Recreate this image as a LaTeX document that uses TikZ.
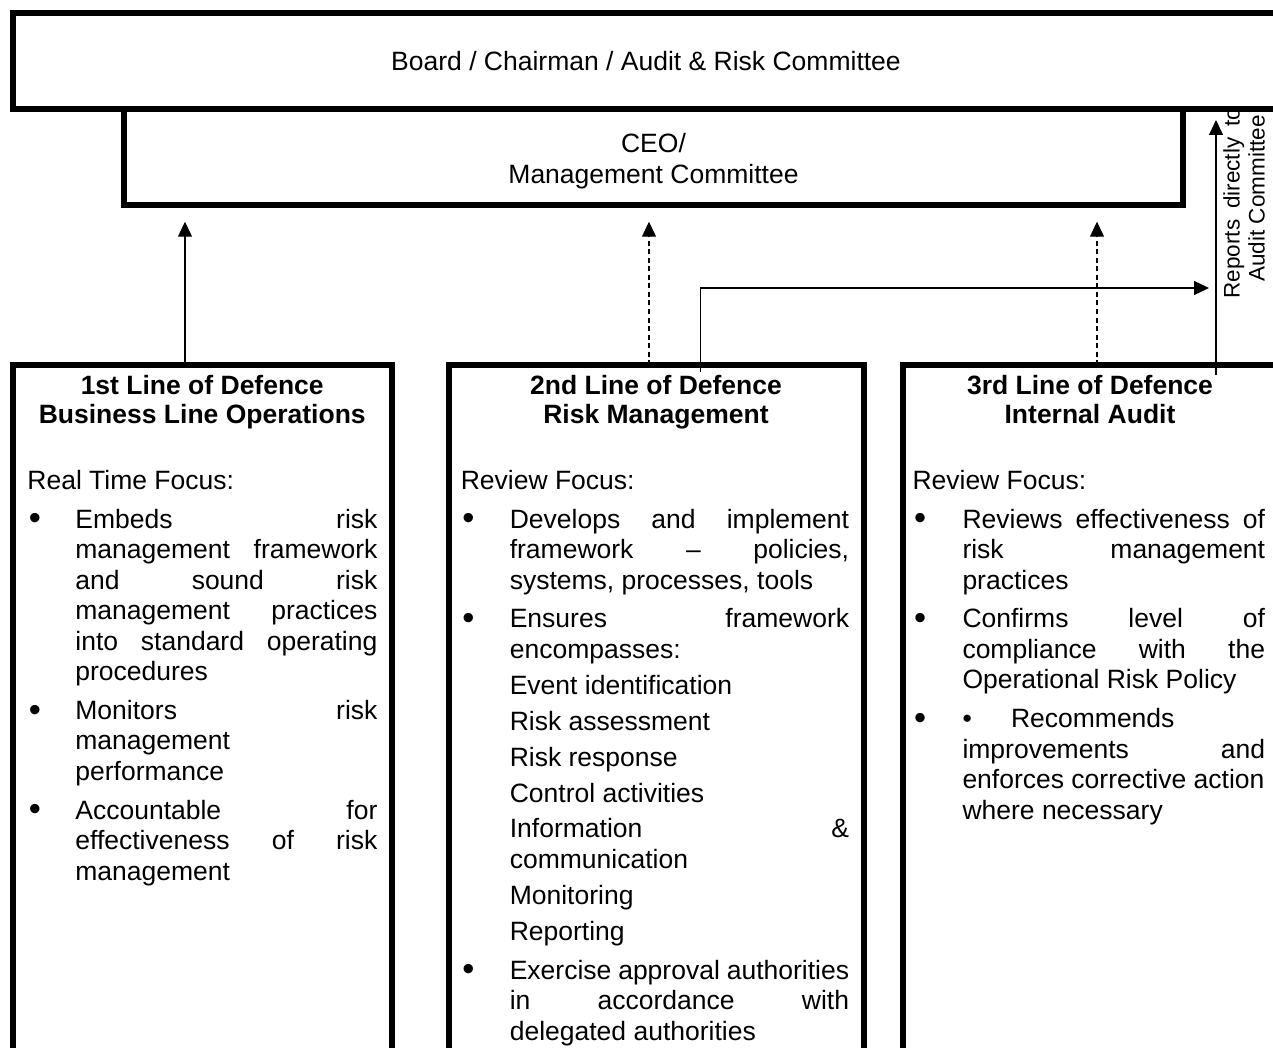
\documentclass[tikz,border=0pt]{standalone}
\usepackage{fontspec}
\setmainfont{Liberation Sans}
\usetikzlibrary{arrows.meta}
\newlength\hangw
\newlength\tw
\newcommand\rl[2][]{\hbox{\makebox[\hangw][l]{#1}\hbox to \tw{#2\hfil}}}
\newcommand\bul{\hspace*{1.5pt}\raisebox{-1.6pt}{\scalebox{1.3}{\textbullet}}}
\newcommand\gapb{\vspace{8.3pt}}
\newcommand\gaps{\vspace{5.4pt}}
\newcommand\bodyfont{\fontsize{26.5pt}{30.5pt}\selectfont}
\begin{document}
\begin{tikzpicture}[x=1pt,y=-1pt,
  frame/.style={draw, line width=6pt, rectangle, inner sep=0pt, outer sep=0pt},
  conn/.style={line width=1.2pt, -{Triangle[length=15pt,width=14pt]}},
  dsh/.style={dash pattern=on 5pt off 3.5pt},
  body/.style={anchor=base west, inner sep=0pt},
  head/.style={anchor=base, inner sep=0pt}]
\useasboundingbox (0,0) rectangle (1273,1048);

% CEO box
\node[frame, minimum width=1059pt, minimum height=96pt] (ceo) at (653.5,157) {};
\node[head] (ceotxt) at (653.5,152.5) {\parbox[t]{600pt}{\centering\fontsize{26.5pt}{31pt}\selectfont CEO/\\Management Committee}};

% three lines of defence
\node[frame, minimum width=378.5pt, minimum height=735pt] (box1) at (202.25,732.5) {};
\node[frame, minimum width=415pt, minimum height=735pt] (box2) at (656,732.5) {};
\node[frame, minimum width=375pt, minimum height=735pt] (box3) at (1090,732.5) {};

% headings
\node[head] (h1) at (202.25,394.3) {\parbox[t]{370pt}{\centering\bfseries\fontsize{26.5pt}{29pt}\selectfont 1st Line of Defence\\Business Line Operations}};
\node[head] (h2) at (656,394.3) {\parbox[t]{400pt}{\centering\bfseries\fontsize{26.5pt}{29pt}\selectfont 2nd Line of Defence\\Risk Management}};
\node[head] (h3) at (1090,394.3) {\parbox[t]{370pt}{\centering\bfseries\fontsize{26.5pt}{29pt}\selectfont 3rd Line of Defence\\Internal Audit}};

% body texts
\node[body] (t1) at (27.2,489.3) {\parbox[t]{350pt}{\bodyfont\setlength\hangw{48pt}\setlength\tw{302pt}%
\hbox{Real Time Focus:}\gapb
\rl[\bul]{Embeds\hfill risk}
\rl{management\hfill framework}
\rl{and\hfill sound\hfill risk}
\rl{management\hfill practices}
\rl{into\hfill standard\hfill operating}
\rl{procedures}\gapb
\rl[\bul]{Monitors\hfill risk}
\rl{management}
\rl{performance}\gapb
\rl[\bul]{Accountable\hfill for}
\rl{effectiveness\hfill of\hfill risk}
\rl{management}}};

\node[body] (t2) at (460.6,489.3) {\parbox[t]{389pt}{\bodyfont\setlength\hangw{49pt}\setlength\tw{339.3pt}%
\hbox{Review Focus:}\gapb
\rl[\bul]{Develops\hfill and\hfill implement}
\rl{framework\hfill --\hfill policies,}
\rl{systems, processes, tools}\gapb
\rl[\bul]{Ensures\hfill framework}
\rl{encompasses:}\gaps
\rl{Event identification}\gaps
\rl{Risk assessment}\gaps
\rl{Risk response}\gaps
\rl{Control activities}\gaps
\rl{Information\hfill \&}
\rl{communication}\gaps
\rl{Monitoring}\gaps
\rl{Reporting}\gapb
\rl[\bul]{Exercise approval authorities}
\rl{in\hfill accordance\hfill with}
\rl{delegated authorities}}};

\node[body] (t3) at (912.3,489.3) {\parbox[t]{353pt}{\bodyfont\setlength\hangw{50pt}\setlength\tw{302.6pt}%
\hbox{Review Focus:}\gapb
\rl[\bul]{Reviews\hfill effectiveness\hfill of}
\rl{risk\hfill management}
\rl{practices}\gapb
\rl[\bul]{Confirms\hfill level\hfill of}
\rl{compliance\hfill with\hfill the}
\rl{Operational Risk Policy}\gapb
\rl[\bul]{\makebox[48.5pt][l]{\textbullet}Recommends}
\rl{improvements\hfill and}
\rl{enforces corrective action}
\rl{where necessary}}};

% rotated note (partly hidden under the board box)
\node[rotate=90, anchor=south west, align=left, inner sep=0pt,
      font=\fontsize{22.5pt}{25pt}\selectfont] (rep) at (1265,298.5)
      {Reports\hspace{4.5pt} directly\hspace{4.5pt} to\\\hspace*{16.7pt}Audit Committee};

% board box, drawn last so it covers the end of the note
\node[frame, fill=white, minimum width=1266pt, minimum height=96pt,
      font=\fontsize{26.5pt}{30.5pt}\selectfont] (board) at (646,61) {Board / Chairman / Audit \& Risk Committee};

% connectors
\coordinate (p1) at (185,221.7);
\coordinate (p2) at (649,221.7);
\coordinate (p3) at (1097,221.7);
\coordinate (rp) at (700.5,288);
\coordinate (rpe) at (1209,288);
\coordinate (ac) at (1216,120);

\draw[conn] (box1.north -| p1) -- (p1);
\draw[conn, dsh] (box2.north -| p2) -- (p2);
\draw[conn, dsh] (box3.north -| p3) -- (p3);
\draw[conn, shorten <=-7pt] (box2.north -| rp) -- (rp) -- (rpe);
\draw[conn, shorten <=-10pt] (box3.north -| ac) -- (ac);
\end{tikzpicture}
\end{document}
